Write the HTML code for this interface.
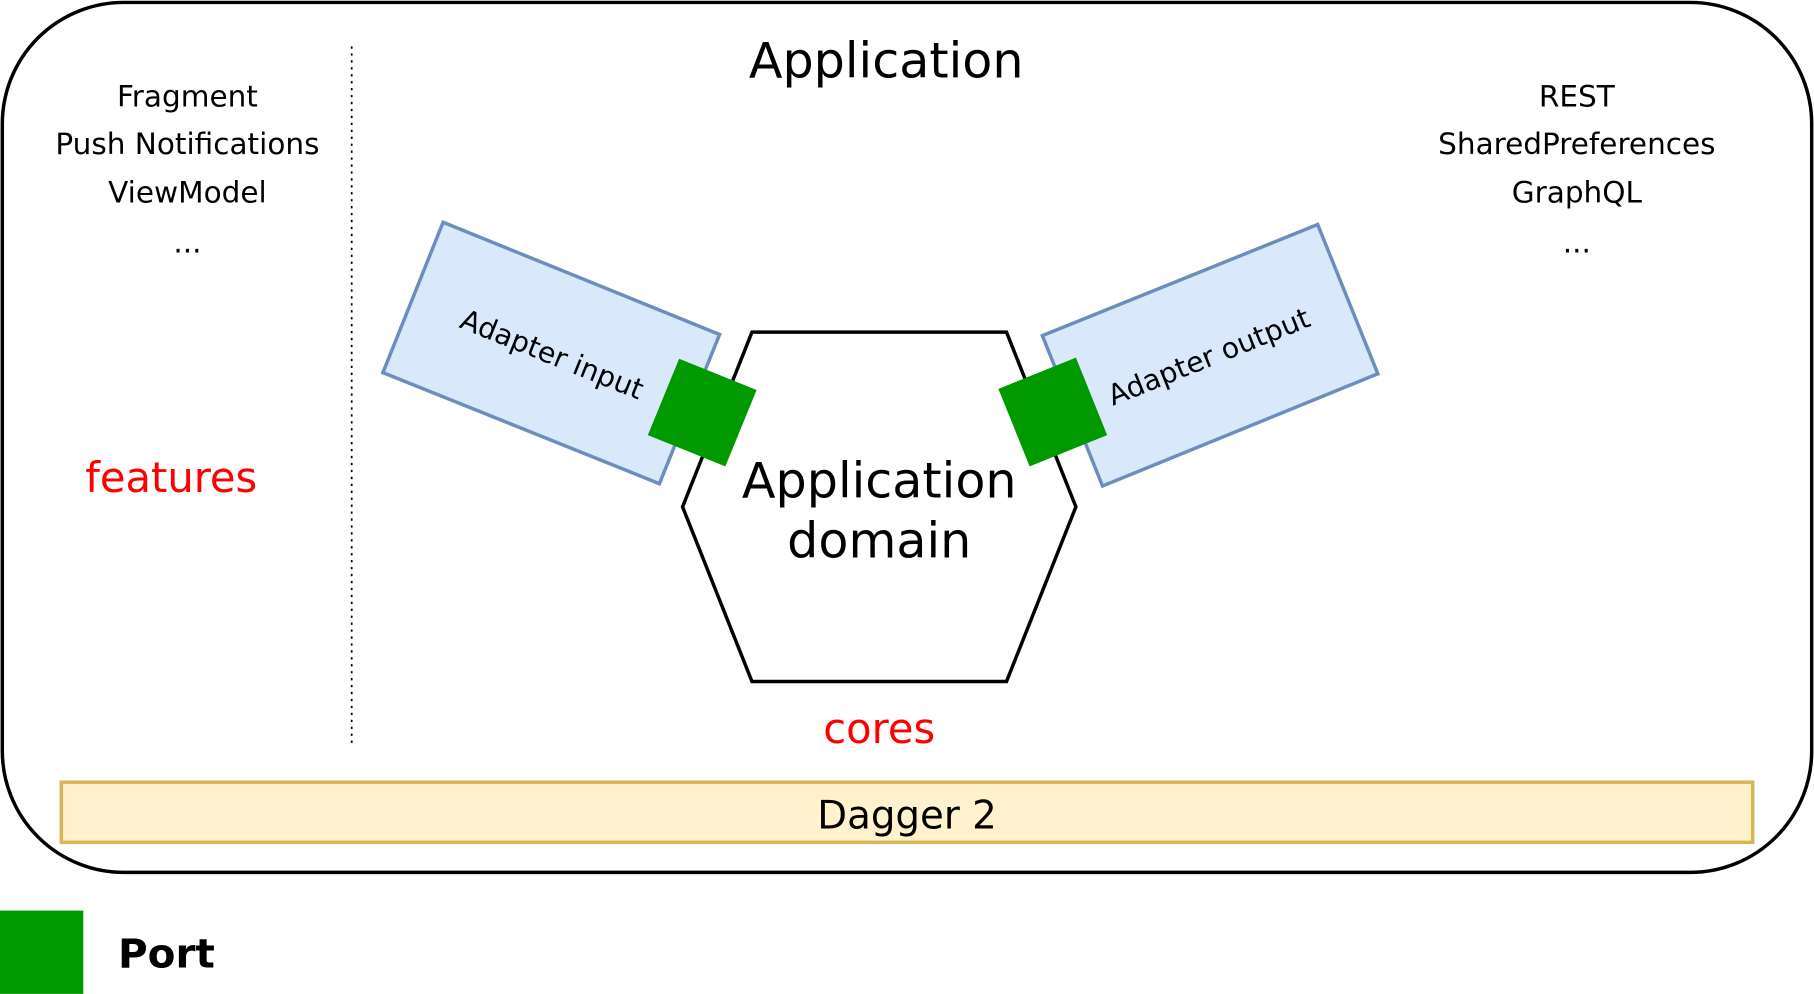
<!DOCTYPE html>
<html><head><meta charset="utf-8">
<style>
html,body{margin:0;padding:0;background:#fff;}
svg{display:block;}
text{font-family:"DejaVu Sans","Liberation Sans",sans-serif;}
</style></head>
<body>
<svg width="1814" height="994" viewBox="0 0 1568 859" xmlns="http://www.w3.org/2000/svg">
<rect x="2" y="2" width="1564" height="752" rx="105" ry="105" fill="#fff" stroke="#000" stroke-width="3"/>
<line x1="304" y1="40" x2="304" y2="645" stroke="#000" stroke-width="1.5" stroke-dasharray="2,4"/>
<text x="766" y="67" font-size="42.5" text-anchor="middle">Application</text>
<g font-size="25.5" text-anchor="middle">
<text x="162" y="92">Fragment</text>
<text x="162" y="133">Push Notifications</text>
<text x="162" y="175">ViewModel</text>
<text x="162" y="218">...</text>
<text x="1363" y="92">REST</text>
<text x="1363" y="133">SharedPreferences</text>
<text x="1363" y="175">GraphQL</text>
<text x="1363" y="218">...</text>
</g>
<text x="148" y="425" font-size="36" fill="#ff0000" text-anchor="middle">features</text>
<polygon points="383,192 622,289 570,418 331,322" fill="#dae8fc" stroke="#6c8ebf" stroke-width="3"/>
<polygon points="901,290 1139,194 1191,323 953,420" fill="#dae8fc" stroke="#6c8ebf" stroke-width="3"/>
<polygon points="650,287 870,287 930,438 870,589 650,589 590,438" fill="#fff" stroke="#000" stroke-width="3"/>
<polygon points="587,310 654,337 627,403 560,376" fill="#009900"/>
<polygon points="863,336 930,309 957,376 890,403" fill="#009900"/>
<text font-size="24.5" text-anchor="middle" transform="translate(474,314) rotate(22)">Adapter input</text>
<text font-size="24.5" text-anchor="middle" transform="translate(1048,316) rotate(-22)">Adapter output</text>
<text x="760" y="430" font-size="42.5" text-anchor="middle">Application</text>
<text x="760" y="482" font-size="42.5" text-anchor="middle">domain</text>
<text x="760" y="642" font-size="36" fill="#ff0000" text-anchor="middle">cores</text>
<rect x="53" y="676" width="1462" height="52" fill="#fff2cc" stroke="#d6b656" stroke-width="3"/>
<text x="784" y="716" font-size="33.5" text-anchor="middle">Dagger 2</text>
<rect x="0" y="787" width="72" height="72" fill="#009900"/>
<text x="102" y="836" font-size="35" font-weight="bold">Port</text>
</svg>
</body></html>
